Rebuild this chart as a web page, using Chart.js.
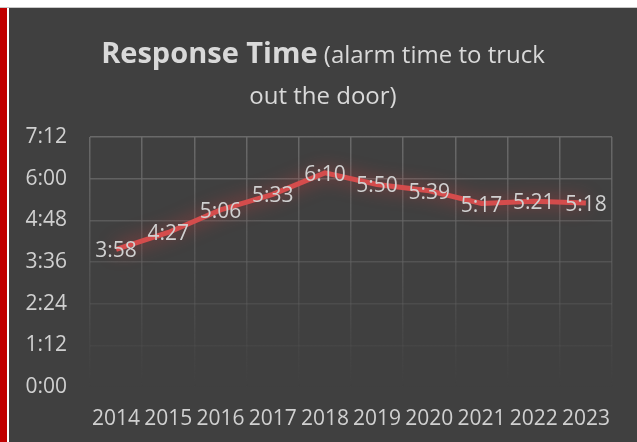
<!DOCTYPE html>
<html>
<head>
<meta charset="utf-8">
<script src="https://cdn.jsdelivr.net/npm/chart.js@4"></script>
<style>
    html, body { margin: 0; padding: 0; background: #ffffff; }
    #topLine { position: absolute; left: 0; top: 7px; width: 637px; height: 1px; background: #c8c8c8; }
    #redBar { position: absolute; left: 0; top: 8px; width: 7px; height: 434px; background: #c00000; }
    #panel { position: absolute; left: 9px; top: 8px; width: 628px; height: 434px; background: #404040; }
    #title {
        position: absolute; left: 0; top: 23px; width: 628px;
        text-align: center; color: #d9d9d9;
        font-family: "Open Sans", sans-serif; font-size: 24px; line-height: 41px;
    }
    #title b { font-size: 29px; font-weight: 700; }
    #chartBox { position: absolute; left: 0; top: 0; width: 628px; height: 434px; }
</style>
</head>
<body>
<div id="topLine"></div>
<div id="redBar"></div>
<div id="panel">
    <div id="chartBox"><canvas id="responseChart"></canvas></div>
    <div id="title"><b>Response Time</b> (alarm time to truck<br>out the door)</div>
</div>
<script>
// Chart data
const years = ['2014', '2015', '2016', '2017', '2018', '2019', '2020', '2021', '2022', '2023'];
// response time in seconds (3:58, 4:27, ...)
const responseSeconds = [238, 267, 306, 333, 370, 350, 339, 317, 321, 318];
// y axis ticks in seconds (0:00 ... 7:12)
const yTickSeconds = [0, 72, 144, 216, 288, 360, 432];

const textColor = '#d0d0d0';
const fontFamily = '"Open Sans", sans-serif';

// Format seconds as m:ss
function formatTime(sec) {
    const m = Math.floor(sec / 60);
    const s = Math.round(sec % 60);
    return m + ':' + (s < 10 ? '0' : '') + s;
}

// Grid lines fade out toward the bottom
function gridColor(context) {
    const chart = context.chart;
    const area = chart.chartArea;
    if (!area) return 'rgba(100,100,100,0.8)';
    const g = chart.ctx.createLinearGradient(0, area.top, 0, area.bottom);
    g.addColorStop(0, 'rgba(110,110,110,0.9)');
    g.addColorStop(0.55, 'rgba(100,100,100,0.5)');
    g.addColorStop(1, 'rgba(90,90,90,0)');
    return g;
}

// Glow under the line
const glowPlugin = {
    id: 'glow',
    beforeDatasetDraw(chart) {
        const ctx = chart.ctx;
        ctx.save();
        ctx.shadowColor = 'rgba(230, 60, 60, 0.7)';
        ctx.shadowBlur = 18;
    },
    afterDatasetDraw(chart) {
        chart.ctx.restore();
    }
};

// Value labels on the points
const valueLabels = {
    id: 'valueLabels',
    afterDatasetsDraw(chart) {
        const ctx = chart.ctx;
        const meta = chart.getDatasetMeta(0);
        ctx.save();
        ctx.font = '21px ' + fontFamily;
        ctx.fillStyle = textColor;
        ctx.textAlign = 'center';
        ctx.textBaseline = 'middle';
        meta.data.forEach((pt, i) => {
            ctx.fillText(formatTime(responseSeconds[i]), pt.x, pt.y + 2);
        });
        ctx.restore();
    }
};

const ctx = document.getElementById('responseChart').getContext('2d');
new Chart(ctx, {
    type: 'line',
    data: {
        labels: years,
        datasets: [{
            data: responseSeconds,
            borderColor: '#d44c4c',
            borderWidth: 5,
            pointRadius: 0,
            tension: 0,
            fill: false
        }]
    },
    options: {
        responsive: true,
        maintainAspectRatio: false,
        animation: false,
        layout: { padding: { top: 129, right: 25, bottom: 0, left: 0 } },
        plugins: {
            legend: { display: false },
            tooltip: { enabled: false }
        },
        scales: {
            x: {
                offset: true,
                grid: { offset: true, color: gridColor, lineWidth: 1.5, drawTicks: false },
                border: { display: false },
                ticks: { color: textColor, font: { family: fontFamily, size: 21 }, padding: 19, maxRotation: 0, autoSkip: false },
                afterFit(scale) { scale.height = 55; }
            },
            y: {
                min: 0,
                max: 432,
                grid: { color: gridColor, lineWidth: 1.5, drawTicks: false },
                border: { display: false },
                afterBuildTicks(scale) {
                    scale.ticks = yTickSeconds.map(v => ({ value: v }));
                },
                ticks: {
                    color: textColor,
                    font: { family: fontFamily, size: 21 },
                    padding: 23,
                    callback: v => formatTime(v)
                },
                afterFit(scale) { scale.width = 81; }
            }
        }
    },
    plugins: [glowPlugin, valueLabels]
});
</script>
</body>
</html>
